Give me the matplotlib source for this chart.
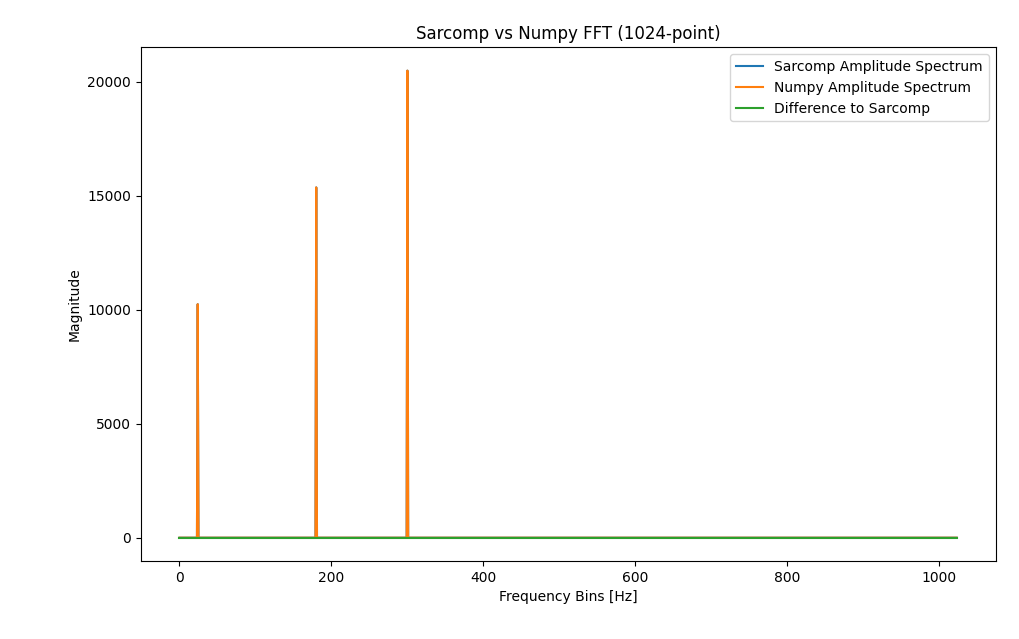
import numpy as np
import matplotlib
matplotlib.use("Agg")
import matplotlib.pyplot as plt

N_POINTS = 1024
peak_bins = [24, 180, 300]
peak_magnitudes = [10240, 15360, 20480]

bins = np.arange(N_POINTS)
sarcomp_mag = np.zeros(N_POINTS)
sarcomp_mag[peak_bins] = peak_magnitudes
numpy_mag = sarcomp_mag.copy()
diff = numpy_mag - sarcomp_mag

fig, ax = plt.subplots(figsize=(10.19, 6.39), dpi=100)
fig.subplots_adjust(left=0.138, right=0.977, top=0.926, bottom=0.122)
ax.plot(bins, sarcomp_mag, label="Sarcomp Amplitude Spectrum")
ax.plot(bins, numpy_mag, label="Numpy Amplitude Spectrum")
ax.plot(bins, diff, label="Difference to Sarcomp")
ax.set_title("Sarcomp vs Numpy FFT (1024-point)")
ax.set_xlabel("Frequency Bins [Hz]")
ax.set_ylabel("Magnitude")
ax.legend(loc="upper right")
fig.savefig("out.png", dpi=100)
